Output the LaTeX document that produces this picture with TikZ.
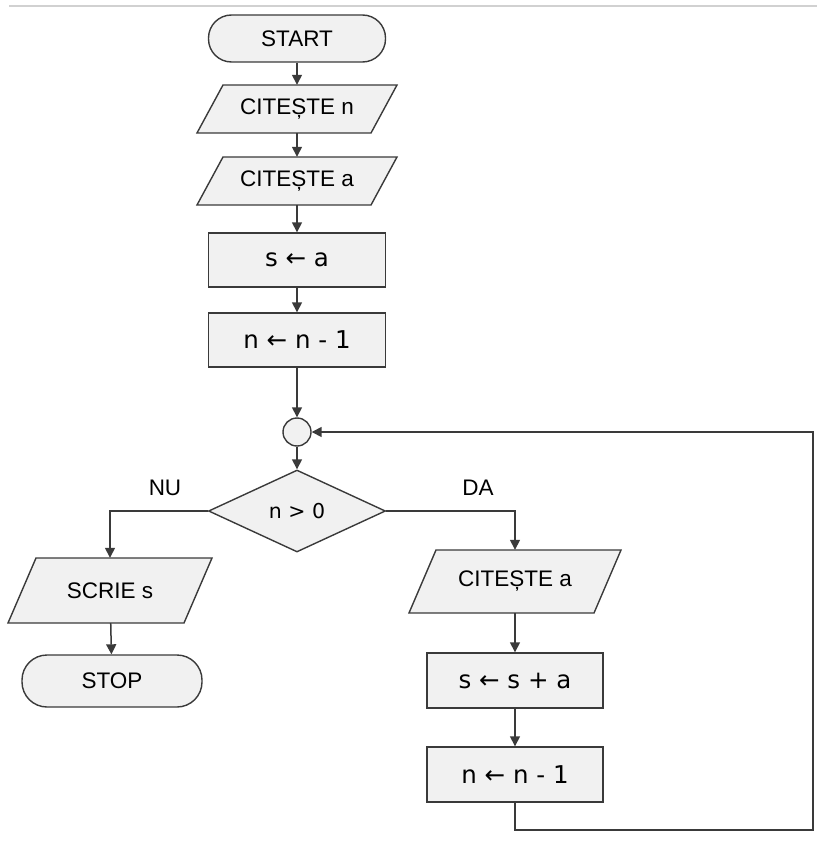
\documentclass[tikz,border=0pt]{standalone}
\usepackage{fontspec}
\setmainfont{Liberation Sans}
\newfontfamily\vfont{DejaVu Sans}
\usetikzlibrary{arrows.meta,shapes.geometric}
\definecolor{lnc}{HTML}{3A3A3A}
\definecolor{boxfill}{HTML}{F1F1F1}
\newcommand\iobox[7]{%
  \draw[shp] (#2-#4/2+#6/2, #3-#5/2) -- ++(#4,0) -- ++(-#6,#5) -- ++(-#4,0) -- cycle;
  \node[inner sep=0pt, minimum height=#5pt, minimum width=#4pt] (#1) at (#2,#3) {#7};}
\begin{document}
\begin{tikzpicture}[x=1pt,y=-1pt,
  every node/.style={font=\fontsize{22.5}{26}\selectfont, text=black},
  shp/.style={draw=lnc, fill=boxfill, line width=1.4pt},
  term/.style={shp, rectangle, rounded corners=23pt, minimum width=177pt, minimum height=47pt, inner sep=0pt},
  proc/.style={shp, rectangle, minimum width=177pt, minimum height=54pt, inner sep=0pt, font=\vfont\fontsize{24.5}{28}\selectfont},
  dec/.style={shp, diamond, minimum width=177pt, minimum height=82pt, inner sep=0pt},
  joincirc/.style={shp, circle, minimum size=28pt, inner sep=0pt},
  lbl/.style={inner sep=0pt},
  conn/.style={draw=lnc, line width=1.5pt, -{Triangle[length=10pt,width=10pt]}}
]
\useasboundingbox (0,0) rectangle (817,845);
\draw[line width=2pt, color=black!18] (9,6.5) -- (817,6.5);

\node[term] (start) at (297,38.5) {START};
\iobox{cn}{297}{109}{174}{48}{26}{CITEȘTE n}
\iobox{ca}{297}{181}{174}{48}{26}{CITEȘTE a}
\node[proc] (sa) at (297,260) {s ← a};
\node[proc] (n1) at (297,340) {n ← n - 1};
\node[joincirc] (jn) at (297,432) {};
\node[dec, font=\vfont\fontsize{20.5}{24}\selectfont] (test) at (297,511) {n > 0};
\node[lbl] (nu) at (165,488) {NU};
\node[lbl] (da) at (478,488) {DA};
\iobox{scr}{110}{590.5}{176}{65}{28}{SCRIE s}
\node[term, minimum width=180pt, minimum height=52pt, rounded corners=25pt] (stop) at (112,681) {STOP};
\iobox{ca2}{515}{581.5}{185}{63}{27}{CITEȘTE a}
\node[proc, minimum width=176pt, minimum height=55pt] (ssa) at (515,680.5) {s ← s + a};
\node[proc, minimum width=176pt, minimum height=55pt] (n2) at (515,774.5) {n ← n - 1};
\coordinate (lb) at (515,830);
\coordinate (rb) at (813,830);
\coordinate (rt) at (813,432);

\draw[conn] (start) -- (cn);
\draw[conn] (cn) -- (ca);
\draw[conn] (ca) -- (sa);
\draw[conn] (sa) -- (n1);
\draw[conn] (n1) -- (jn);
\draw[conn] (jn) -- (test);
\draw[conn] (test.west) -| (scr.north);
\draw[conn] (scr) -- (stop);
\draw[conn] (test.east) -| (ca2.north);
\draw[conn] (ca2) -- (ssa);
\draw[conn] (ssa) -- (n2);
\draw[conn] (n2.south) -- (lb) -- (rb) -- (rt) -- (jn.east);
\end{tikzpicture}
\end{document}
